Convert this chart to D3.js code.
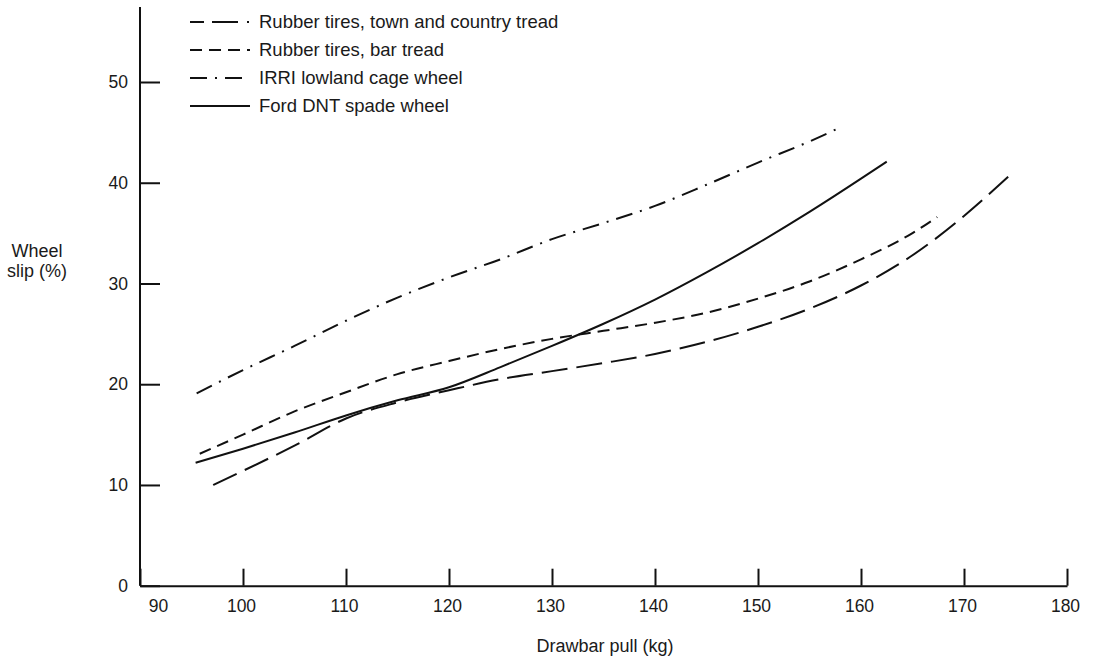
<!DOCTYPE html>
<html>
<head>
<meta charset="utf-8">
<script src="https://cdn.jsdelivr.net/npm/d3@7"></script>
<style>
  body { margin: 0; background: #fff; }
  text { font-family: "Liberation Sans", Arial, sans-serif; fill: #1a1a1a; }
</style>
</head>
<body>
<svg id="vis" width="1094" height="659"></svg>
<script>
// data
const xTicks = [90, 100, 110, 120, 130, 140, 150, 160, 170, 180];
const yTicks = [0, 10, 20, 30, 40, 50];

const townX = [97.1, 100, 105, 110, 115, 120, 125, 130, 135, 140, 145, 150, 155, 160, 165, 170, 174.3];
const townY = [10.0, 11.4, 13.9, 16.6, 18.2, 19.4, 20.5, 21.3, 22.1, 23.0, 24.2, 25.7, 27.5, 29.8, 32.8, 36.7, 40.6];

const barX = [95.8, 100, 105, 110, 115, 120, 125, 130, 135, 140, 145, 150, 155, 160, 165, 167.4];
const barY = [13.1, 15.0, 17.3, 19.2, 21.0, 22.3, 23.5, 24.5, 25.3, 26.1, 27.1, 28.5, 30.2, 32.4, 35.0, 36.6];

const cageX = [95.5, 100, 105, 110, 115, 120, 125, 130, 135, 140, 145, 150, 155, 157.8];
const cageY = [19.1, 21.4, 23.8, 26.3, 28.6, 30.6, 32.4, 34.4, 36.0, 37.7, 39.8, 42.0, 44.1, 45.4];

const fordX = [95.4, 100, 105, 110, 115, 120, 125, 130, 135, 140, 145, 150, 155, 160, 162.5];
const fordY = [12.2, 13.6, 15.2, 16.9, 18.4, 19.7, 21.7, 23.8, 26.0, 28.4, 31.1, 34.0, 37.1, 40.4, 42.1];

const seriesNames = [
  "Rubber tires, town and country tread",
  "Rubber tires, bar tread",
  "IRRI lowland cage wheel",
  "Ford DNT spade wheel"
];
const seriesX = [townX, barX, cageX, fordX];
const seriesY = [townY, barY, cageY, fordY];
const dashes = ["26,9", "12,7", "17,8,2,8", null];

const svg = d3.select("#vis");
const ink = "#111";

// scales
const x = d3.scaleLinear().domain([90, 180]).range([140, 1067]);
const y = d3.scaleLinear().domain([0, 50]).range([585.7, 82]);

// axes
const xAxis = d3.axisBottom(x)
  .tickValues(xTicks)
  .tickSizeInner(-17)
  .tickSizeOuter(0)
  .tickPadding(14);

const gx = svg.append("g")
  .attr("transform", "translate(0,585.7)")
  .call(xAxis);
gx.select(".domain").attr("stroke", ink).attr("stroke-width", 2);
gx.selectAll(".tick line").attr("stroke", ink).attr("stroke-width", 2);
gx.selectAll(".tick text")
  .style("font-size", "17.5px")
  .attr("fill", "#1a1a1a")
  .attr("dx", d => d === 90 ? 18 : -2);

const yAxis = d3.axisLeft(y)
  .tickValues(yTicks)
  .tickSizeInner(-20)
  .tickSizeOuter(0)
  .tickPadding(12);

const gy = svg.append("g")
  .attr("transform", "translate(140,0)")
  .call(yAxis);
gy.select(".domain").remove();
gy.append("line")
  .attr("x1", 0).attr("x2", 0)
  .attr("y1", y(0)).attr("y2", 7)
  .attr("stroke", ink).attr("stroke-width", 2);
gy.selectAll(".tick line").attr("stroke", ink).attr("stroke-width", 2);
gy.selectAll(".tick text")
  .style("font-size", "17.5px")
  .attr("fill", "#1a1a1a");

// axis titles
svg.append("text")
  .attr("x", 605).attr("y", 652)
  .attr("text-anchor", "middle")
  .style("font-size", "18px")
  .text("Drawbar pull (kg)");

const yt = svg.append("text")
  .attr("text-anchor", "middle")
  .style("font-size", "18px");
yt.append("tspan").attr("x", 37).attr("y", 256.5).text("Wheel");
yt.append("tspan").attr("x", 37).attr("y", 276.5).text("slip (%)");

// curves
const line = d3.line()
  .x(d => x(d[0]))
  .y(d => y(d[1]))
  .curve(d3.curveMonotoneX);

seriesNames.forEach((name, i) => {
  const pts = d3.zip(seriesX[i], seriesY[i]);
  svg.append("path")
    .datum(pts)
    .attr("d", line)
    .attr("fill", "none")
    .attr("stroke", ink)
    .attr("stroke-width", 2)
    .attr("stroke-dasharray", dashes[i]);
});

// legend
const legend = svg.append("g");
seriesNames.forEach((name, i) => {
  const yy = 22 + i * 28;
  legend.append("line")
    .attr("x1", 190).attr("x2", 250)
    .attr("y1", yy).attr("y2", yy)
    .attr("stroke", ink)
    .attr("stroke-width", 2)
    .attr("stroke-dasharray", i === 0 ? "14,8,26,9,2,20" : dashes[i]);
  legend.append("text")
    .attr("x", 259).attr("y", yy + 6)
    .style("font-size", "18.5px")
    .text(name);
});
</script>
</body>
</html>
